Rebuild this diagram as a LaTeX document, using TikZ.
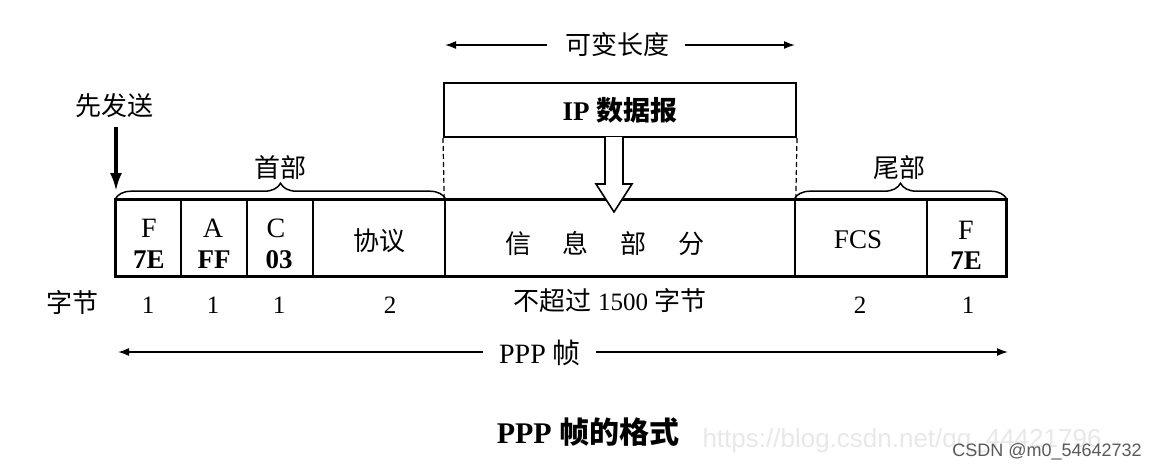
\documentclass[tikz,border=0pt]{standalone}
\usepackage{fontspec}
\setmainfont{Liberation Serif}
\setsansfont{Liberation Sans}
\newfontfamily\cjk{Noto Sans CJK SC}
\usetikzlibrary{decorations.pathreplacing,arrows.meta}
\newcommand\zh[1]{{\cjk #1}}
\begin{document}
\begin{tikzpicture}[x=1pt,y=-1pt,
  cell/.style={draw, line width=1.6pt, minimum height=76pt, inner sep=0pt},
  zhlab/.style={inner sep=0pt, font=\fontsize{26}{30}\selectfont},
  hexlab/.style={inner sep=0pt, font=\bfseries\fontsize{27}{30}\selectfont},
  numlab/.style={inner sep=0pt, font=\fontsize{25}{28}\selectfont},
  bracestyle/.style={decorate, decoration={brace, amplitude=16pt}, line width=1.5pt},
  dimarrow/.style={line width=1.6pt, -{Latex[length=11pt,width=8pt]}},
  wm/.style={inner sep=0pt, font=\sffamily\fontsize{26}{30}\selectfont, text=black!9}
]
\useasboundingbox (0,0) rectangle (1164,472);

% watermark (faint)
\node[wm] (url) at (902,441) {https://blog.csdn.net/qq\_44421796};

% frame cells
\node[cell, minimum width=65pt]  (f1) at (148.5,238) {};
\node[cell, minimum width=66pt]  (f2) at (214,238) {};
\node[cell, minimum width=66pt]  (f3) at (280,238) {};
\node[cell, minimum width=132pt] (f4) at (379,238) {};
\node[cell, minimum width=350pt] (f5) at (620,238) {};
\node[cell, minimum width=132pt] (f6) at (861,238) {};
\node[cell, minimum width=79pt]  (f7) at (966.5,238) {};
\draw[line width=3pt] (f1.north west) rectangle (f7.south east);

% cell texts
\node[hexlab, font=\fontsize{28}{30}\selectfont] (tF1) at (149,228) {F};
\node[hexlab] (t7E1) at (149,260) {7E};
\node[hexlab, font=\fontsize{28}{30}\selectfont] (tA) at (213,228) {A};
\node[hexlab] (tFF) at (214,260) {FF};
\node[hexlab, font=\fontsize{28}{30}\selectfont] (tC) at (276,228) {C};
\node[hexlab] (t03) at (279,260) {03};
\node[zhlab] (tproto) at (379,241) {\zh{协议}};
\node[zhlab] (tinfo) at (605,244) {\zh{信\hspace{32pt}息\hspace{32pt}部\hspace{32pt}分}};
\node[zhlab, font=\fontsize{27}{30}\selectfont] (tfcs) at (858,240) {FCS};
\node[hexlab, font=\fontsize{28}{30}\selectfont] (tF2) at (966,230) {F};
\node[hexlab] (t7E2) at (966,261) {7E};

% braces
\draw[bracestyle] (f1.north west) -- (f4.north east);
\draw[bracestyle] (f6.north west) -- (f7.north east);
\node[zhlab] (head) at (280,168) {\zh{首部}};
\node[zhlab] (tail) at (899,168) {\zh{尾部}};

% first sent
\node[zhlab] (send) at (114,106) {\zh{先发送}};
\coordinate (sendtip) at (116,191);
\draw[line width=3.2pt, -{Latex[length=18pt,width=12pt]}, shorten <=9pt] (send.south -| sendtip) -- (sendtip);

% IP datagram
\node[draw, line width=2pt, minimum width=352pt, minimum height=54pt, inner sep=0pt,
      font=\bfseries\fontsize{27}{30}\selectfont] (ip) at (620,110) {IP \zh{数据报}};
\draw[dashed, line width=1.2pt, dash pattern=on 5pt off 3pt] (ip.south west) -- (f5.north west);
\draw[dashed, line width=1.2pt, dash pattern=on 5pt off 3pt] (ip.south east) -- (f5.north east);

% hollow arrow
\draw[fill=white, line width=1.6pt, line join=miter]
  (605,137) -- (605,184) -- (596,184) -- (614,212) -- (632,184) -- (623,184) -- (623,137);

% variable length
\node[zhlab] (var) at (617,45) {\zh{可变长度}};
\coordinate (varL) at (445,45);
\coordinate (varR) at (795,45);
\draw[dimarrow, shorten <=18pt] (var.west) -- (varL);
\draw[dimarrow, shorten <=16pt] (var.east) -- (varR);

% byte counts
\node[zhlab] (bytes) at (72,303) {\zh{字节}};
\node[numlab] (n1) at (148,305) {1};
\node[numlab] (n2) at (213,305) {1};
\node[numlab] (n3) at (279,305) {1};
\node[numlab] (n4) at (390,305) {2};
\node[zhlab] (n5) at (610,301) {\zh{不超过} {\fontsize{25}{28}\selectfont 1500} \zh{字节}};
\node[numlab] (n6) at (860,305) {2};
\node[numlab] (n7) at (968,305) {1};

% PPP frame
\node[inner sep=0pt, font=\fontsize{28}{32}\selectfont] (ppp) at (540,353) {PPP \zh{帧}};
\coordinate (pppL) at (118,352);
\coordinate (pppR) at (1008,352);
\draw[dimarrow, shorten <=16pt] (ppp.west |- pppL) -- (pppL);
\draw[dimarrow, shorten <=15pt] (ppp.east |- pppR) -- (pppR);

% title
\node[inner sep=0pt, font=\bfseries\fontsize{30}{34}\selectfont] (title) at (588,432) {PPP \zh{帧的格式}};

% CSDN mark
\node[inner sep=0pt, font=\sffamily\fontsize{18}{22}\selectfont, text=black!65] (csdn) at (1047,452) {CSDN @m0\_54642732};
\end{tikzpicture}
\end{document}
